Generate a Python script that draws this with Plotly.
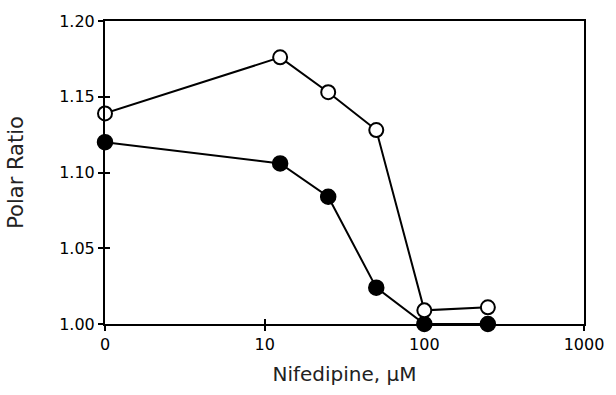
import plotly.graph_objects as go

# Data
nifedipine_uM = [0, 12.5, 25, 50, 100, 250]
open_series = [1.139, 1.176, 1.153, 1.128, 1.009, 1.011]
filled_series = [1.120, 1.106, 1.084, 1.024, 1.000, 1.000]
x_tick_vals = [1, 10, 100, 1000]
x_tick_text = ["0", "10", "100", "1000"]
y_tick_vals = [1.00, 1.05, 1.10, 1.15, 1.20]

# zero concentration is drawn at the axis origin (1 on the log axis)
x_plot = [v if v > 0 else 1 for v in nifedipine_uM]

font_family = "DejaVu Sans, sans-serif"

fig = go.Figure()
fig.add_trace(go.Scatter(
    x=x_plot, y=filled_series, mode="lines+markers",
    line=dict(color="black", width=2),
    marker=dict(symbol="circle", size=15, color="black",
                line=dict(color="black", width=1.5)),
    cliponaxis=False, showlegend=False))
fig.add_trace(go.Scatter(
    x=x_plot, y=open_series, mode="lines+markers",
    line=dict(color="black", width=2),
    marker=dict(symbol="circle", size=14, color="white",
                line=dict(color="black", width=2)),
    cliponaxis=False, showlegend=False))

fig.update_layout(
    width=616, height=395,
    margin=dict(l=105, r=22, t=15, b=71),
    paper_bgcolor="white", plot_bgcolor="white",
    font=dict(family=font_family, color="black"),
    xaxis=dict(
        type="log", range=[0, 3],
        tickvals=x_tick_vals, ticktext=x_tick_text,
        ticks="outside", ticklen=5, tickwidth=2, tickcolor="black",
        showline=True, linecolor="black", linewidth=2, mirror=True,
        showgrid=False, zeroline=False,
        tickfont=dict(size=16, color="black"),
        title=dict(text="Nifedipine, \u00b5M", font=dict(size=20, color="#222"), standoff=14),
    ),
    yaxis=dict(
        range=[1.0, 1.2],
        tickvals=y_tick_vals, tickformat=".2f",
        ticks="outside", ticklen=5, tickwidth=2, tickcolor="black",
        showline=True, linecolor="black", linewidth=2, mirror=True,
        showgrid=False, zeroline=False,
        tickfont=dict(size=16, color="black"),
        title=dict(text="Polar Ratio", font=dict(size=21, color="#222"), standoff=30),
    ),
    xaxis2=dict(
        type="log", range=[0, 3], overlaying="x", anchor="y",
        tickvals=x_tick_vals, showticklabels=False,
        ticks="inside", ticklen=5, tickwidth=2, tickcolor="black",
        showgrid=False, zeroline=False, showline=False,
    ),
    yaxis2=dict(
        range=[1.0, 1.2], overlaying="y", anchor="x",
        tickvals=y_tick_vals, showticklabels=False,
        ticks="inside", ticklen=5, tickwidth=2, tickcolor="black",
        showgrid=False, zeroline=False, showline=False,
    ),
)
# invisible helper trace to activate the overlay axes
fig.add_trace(go.Scatter(x=[x_plot[0]], y=[filled_series[0]], xaxis="x2", yaxis="y2",
                         mode="markers", marker=dict(opacity=0), hoverinfo="skip",
                         showlegend=False))

fig.write_html("out.html")
